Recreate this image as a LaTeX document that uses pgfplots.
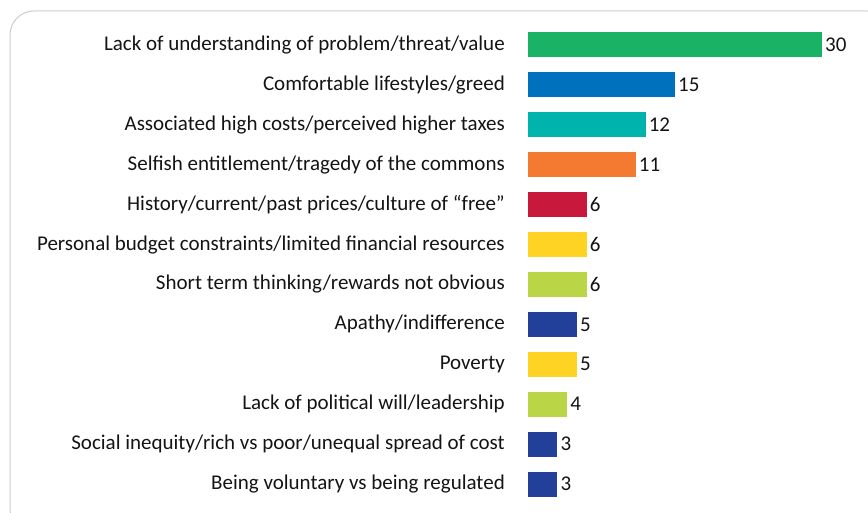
\documentclass[border=0pt]{standalone}
\usepackage{pgfplots}
\pgfplotsset{compat=1.18}
\usepackage{fontspec}
\setmainfont{Carlito}
\definecolor{cgreen}{RGB}{26,178,100}
\definecolor{cblue}{RGB}{0,113,188}
\definecolor{cteal}{RGB}{0,180,174}
\definecolor{corange}{RGB}{244,122,50}
\definecolor{ccrimson}{RGB}{200,25,61}
\definecolor{cyellow}{RGB}{255,211,36}
\definecolor{clime}{RGB}{186,214,70}
\definecolor{cnavy}{RGB}{34,64,154}
\begin{document}
\begin{tikzpicture}
\useasboundingbox (0pt,0pt) rectangle (868pt,513pt);
\draw[black!20, line width=1pt, rounded corners=24pt] (10pt,-20pt) rectangle (890pt,502pt);
\begin{axis}[
  at={(528pt,9pt)}, anchor=south west,
  scale only axis, width=294pt, height=479pt,
  xbar, bar shift=0pt, bar width=25pt,
  xmin=0, xmax=30, ymin=-0.5, ymax=11.5, y dir=reverse,
  axis line style={draw=none}, major tick length=0pt,
  xtick=\empty, ytick={0,...,11},
  /pgf/number format/assume math mode=true,
  yticklabels={Lack of understanding of problem/threat/value,
    Comfortable lifestyles/greed,
    Associated high costs/perceived higher taxes,
    Selfish entitlement/tragedy of the commons,
    History/current/past prices/culture of “free”,
    Personal budget constraints/limited financial resources,
    Short term thinking/rewards not obvious,
    Apathy/indifference,
    Poverty,
    Lack of political will/leadership,
    Social inequity/rich vs poor/unequal spread of cost,
    Being voluntary vs being regulated},
  yticklabel style={anchor=east, inner sep=0pt, xshift=-23pt, font=\fontsize{21}{23}\selectfont, text=black!92},
  clip=false,
  nodes near coords,
  nodes near coords style={anchor=west, inner sep=0pt, xshift=3pt, font=\fontsize{21}{23}\selectfont, text=black!92},
  every axis plot/.append style={draw=none},
]
\addplot[fill=cgreen] coordinates {(30,0)};
\addplot[fill=cblue] coordinates {(15,1)};
\addplot[fill=cteal] coordinates {(12,2)};
\addplot[fill=corange] coordinates {(11,3)};
\addplot[fill=ccrimson] coordinates {(6,4)};
\addplot[fill=cyellow] coordinates {(6,5)};
\addplot[fill=clime] coordinates {(6,6)};
\addplot[fill=cnavy] coordinates {(5,7)};
\addplot[fill=cyellow] coordinates {(5,8)};
\addplot[fill=clime] coordinates {(4,9)};
\addplot[fill=cnavy] coordinates {(3,10)};
\addplot[fill=cnavy] coordinates {(3,11)};
\end{axis}
\end{tikzpicture}
\end{document}
